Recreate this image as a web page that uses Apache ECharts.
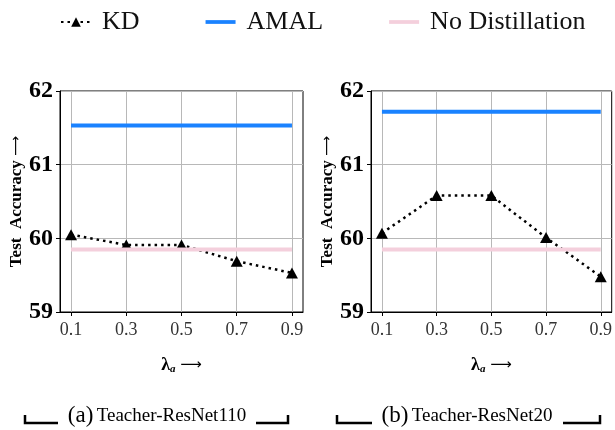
<!DOCTYPE html>
<html>
<head>
    <meta charset="utf-8">
    <script src="https://cdn.jsdelivr.net/npm/echarts@6/dist/echarts.min.js"></script>
</head>
<style>
    *{
        margin:0;
        padding:0;
    }
    body{
        background:#fff;
    }
</style>
<body>
<div id="main" style="width:615px;height:430px;"></div>
<script type="text/javascript">
    // data
    var lambdas = [0.1, 0.3, 0.5, 0.7, 0.9];
    var yTicks = [59, 60, 61, 62];
    var kdLeft = [60.05, 59.91, 59.91, 59.69, 59.53];
    var kdRight = [60.07, 60.58, 60.58, 60.01, 59.48];
    var amalLeft = 61.53;
    var amalRight = 61.72;
    var noDistLeft = 59.85;
    var noDistRight = 59.85;
    var captions = ['(a)', 'Teacher-ResNet110', '(b)', 'Teacher-ResNet20'];

    var serif = '"Liberation Serif", "DejaVu Serif", serif';
    var blue = '#1a82ff';
    var pink = '#f4cfdc';
    var barIcon = 'path://M0,0h32v4h-32z';

    function pairs(ys){
        return lambdas.map(function(x, i){ return [x, ys[i]]; });
    }
    function flat(v){
        return lambdas.map(function(x){ return [x, v]; });
    }

    function xAxis(idx){
        return {
            type:'value',
            gridIndex:idx,
            min:0.06,
            max:0.94,
            name:'{l|λ}{s|a}{r| ⟶}',
            nameLocation:'middle',
            nameGap:43,
            nameTextStyle:{
                rich:{
                    l:{fontFamily:serif, fontWeight:'bold', fontSize:18, color:'#000'},
                    s:{fontFamily:serif, fontStyle:'italic', fontWeight:'bold', fontSize:11, color:'#000', padding:[9,0,0,0]},
                    r:{fontFamily:'"DejaVu Sans", sans-serif', fontSize:15, color:'#000'}
                }
            },
            axisLine:{lineStyle:{color:'#000', width:1}},
            axisTick:{show:true, length:4, customValues:lambdas, lineStyle:{color:'#000'}},
            axisLabel:{
                customValues:lambdas,
                margin:9,
                fontFamily:serif,
                fontSize:18,
                color:'#333',
                formatter:function(v){ return v.toFixed(1); }
            },
            splitLine:{show:true, lineStyle:{color:'#b8b8b8', width:1}}
        };
    }

    function yAxis(idx){
        return {
            type:'value',
            gridIndex:idx,
            min:yTicks[0],
            max:yTicks[yTicks.length - 1],
            interval:1,
            name:'{t|Test  Accuracy }{a|⟶}',
            nameLocation:'middle',
            nameRotate:90,
            nameGap:idx === 0 ? 35 : 33,
            nameTextStyle:{
                rich:{
                    t:{fontFamily:serif, fontWeight:'bold', fontSize:17, color:'#000'},
                    a:{fontFamily:'"DejaVu Sans", sans-serif', fontSize:14, color:'#000'}
                }
            },
            axisLine:{show:true, lineStyle:{color:'#000', width:1}},
            axisTick:{show:true, length:4, lineStyle:{color:'#000'}},
            axisLabel:{
                margin:7,
                fontFamily:serif,
                fontWeight:'bold',
                fontSize:24,
                color:'#000'
            },
            splitLine:{show:true, lineStyle:{color:'#b8b8b8', width:1}}
        };
    }

    function kdSeries(idx, ys){
        return {
            name:'KD',
            type:'line',
            xAxisIndex:idx,
            yAxisIndex:idx,
            data:pairs(ys),
            symbol:'triangle',
            symbolSize:[12, 11],
            itemStyle:{color:'#000'},
            lineStyle:{color:'#000', width:2.5, type:[2.5, 4]},
            z:2
        };
    }
    function flatSeries(idx, name, v, color){
        return {
            name:name,
            type:'line',
            xAxisIndex:idx,
            yAxisIndex:idx,
            data:flat(v),
            symbol:'none',
            itemStyle:{color:color},
            lineStyle:{color:color, width:4},
            z:3
        };
    }

    var myChart = echarts.init(document.getElementById('main'));

    var option = {
        animation:false,
        backgroundColor:'#fff',
        legend:{
            top:4,
            left:55,
            itemWidth:30,
            itemHeight:12,
            itemGap:66,
            textStyle:{fontFamily:serif, fontSize:26, color:'#111', padding:[0,0,0,6]},
            data:[
                {name:'KD'},
                {name:'AMAL', icon:barIcon},
                {name:'No Distillation', icon:barIcon}
            ]
        },
        grid:[
            {left:60, top:91, width:243, height:221, show:true, borderColor:'#000', borderWidth:1},
            {left:371, top:91, width:243, height:221, show:true, borderColor:'#000', borderWidth:1}
        ],
        xAxis:[xAxis(0), xAxis(1)],
        yAxis:[yAxis(0), yAxis(1)],
        series:[
            kdSeries(0, kdLeft),
            flatSeries(0, 'AMAL', amalLeft, blue),
            flatSeries(0, 'No Distillation', noDistLeft, pink),
            kdSeries(1, kdRight),
            flatSeries(1, 'AMAL', amalRight, blue),
            flatSeries(1, 'No Distillation', noDistRight, pink)
        ],
        graphic:[
            {type:'polyline', shape:{points:[[25,415],[25,423],[58,423]]}, style:{stroke:'#000', lineWidth:2.5, fill:null}},
            {type:'polyline', shape:{points:[[256,423],[288,423],[288,415]]}, style:{stroke:'#000', lineWidth:2.5, fill:null}},
            {type:'text', x:157, y:416, style:{
                text:'{p|' + captions[0] + '} {t|' + captions[1] + '}',
                align:'center', verticalAlign:'middle',
                rich:{
                    p:{fontFamily:serif, fontSize:23, fill:'#000'},
                    t:{fontFamily:serif, fontSize:19, fill:'#000'}
                }
            }},
            {type:'polyline', shape:{points:[[337,415],[337,423],[372,423]]}, style:{stroke:'#000', lineWidth:2.5, fill:null}},
            {type:'polyline', shape:{points:[[563,423],[600,423],[600,415]]}, style:{stroke:'#000', lineWidth:2.5, fill:null}},
            {type:'text', x:467, y:416, style:{
                text:'{p|' + captions[2] + '} {t|' + captions[3] + '}',
                align:'center', verticalAlign:'middle',
                rich:{
                    p:{fontFamily:serif, fontSize:23, fill:'#000'},
                    t:{fontFamily:serif, fontSize:19, fill:'#000'}
                }
            }}
        ]
    };

    myChart.setOption(option);
</script>
</body>
</html>
